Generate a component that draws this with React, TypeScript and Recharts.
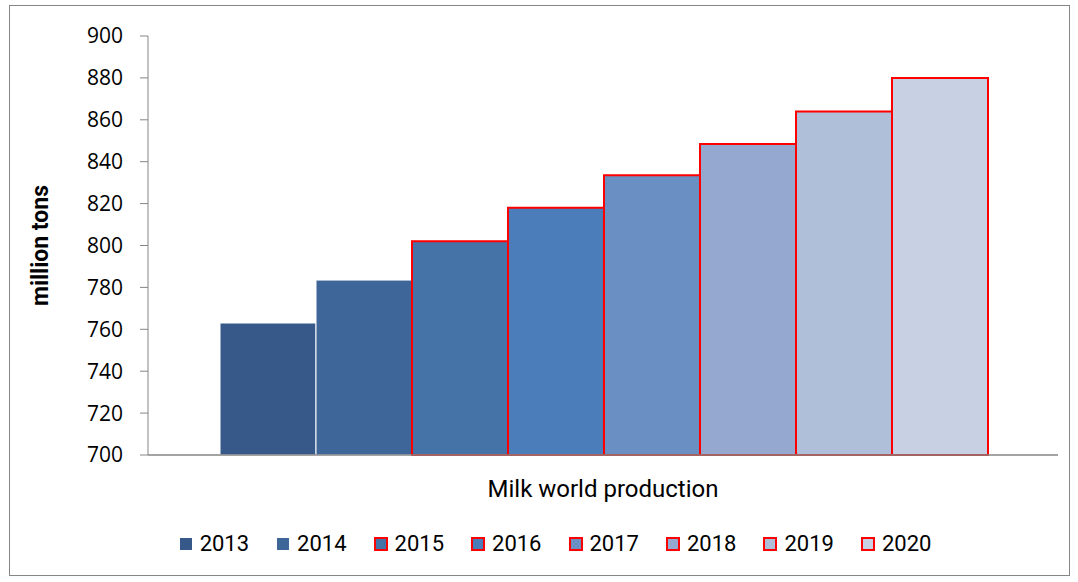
import React from 'react';
import { BarChart, Bar, XAxis, YAxis, Legend } from 'recharts';

const years = ['2013', '2014', '2015', '2016', '2017', '2018', '2019', '2020'];
const production = [763, 783.5, 802, 818, 833.5, 848.5, 864, 880];
const categoryName = 'Milk world production';
const yTicks = [700, 720, 740, 760, 780, 800, 820, 840, 860, 880, 900];

const fills = ['#36598A', '#3E6699', '#4573A7', '#4A7DBA', '#6A8FC3', '#95A9D0', '#AFBFDA', '#C8D0E3'];
const strokes = ['#FFFFFF', '#FFFFFF', '#FF0000', '#FF0000', '#FF0000', '#FF0000', '#FF0000', '#FF0000'];
const strokeWidths = [1, 1, 2, 2, 2, 2, 2, 2];

const row: Record<string, string | number> = { name: categoryName };
years.forEach((y, i) => {
  row['y' + y] = production[i];
});
const data = [row];

const AXIS = '#868686';
const FONT = 'Roboto, "Open Sans", sans-serif';

const YLabel = (props: any) => {
  const vb = props.viewBox || { x: 0, y: 0, width: 0, height: 0 };
  const cx = vb.x + 40;
  const cy = vb.y + vb.height / 2;
  return (
    <text
      x={cx}
      y={cy}
      transform={`rotate(-90, ${cx}, ${cy})`}
      textAnchor="middle"
      dominantBaseline="central"
      fontFamily={FONT}
      fontWeight="bold"
      fontSize={23}
      fill="#000"
    >
      million tons
    </text>
  );
};

const LegendContent = (props: any) => {
  const payload = props.payload || [];
  return (
    <div
      style={{
        display: 'flex',
        justifyContent: 'center',
        alignItems: 'center',
        gap: 27,
        paddingLeft: 32,
        fontFamily: FONT,
        fontSize: 22,
        color: '#000',
      }}
    >
      {payload.map((entry: any, i: number) => {
        const idx = years.indexOf(String(entry.value));
        const red = strokes[idx] === '#FF0000';
        return (
          <div key={i} style={{ display: 'flex', alignItems: 'center' }}>
            <svg width={14} height={14} style={{ marginRight: 7 }}>
              <rect
                x={1}
                y={1}
                width={12}
                height={12}
                fill={fills[idx]}
                stroke={red ? '#FF0000' : 'none'}
                strokeWidth={red ? 2 : 0}
              />
            </svg>
            <span>{entry.value}</span>
          </div>
        );
      })}
    </div>
  );
};

export default function App() {
  return (
    <div style={{ position: 'absolute', left: 0, top: 0, width: 1078, height: 582, background: '#fff' }}>
      <div
        style={{
          position: 'absolute',
          left: 9,
          top: 5,
          width: 1059,
          height: 569,
          border: `1px solid ${AXIS}`,
        }}
      />
      <div style={{ position: 'absolute', left: 0, top: 0 }}>
        <BarChart
          width={1078}
          height={582}
          data={data}
          margin={{ top: 36, right: 20, bottom: 79, left: 0 }}
          barGap={0}
          barCategoryGap={72}
        >
          <XAxis
            xAxisId="a_edge"
            type="number"
            domain={[0, 1]}
            ticks={[0, 1]}
            allowDataOverflow
            tick={false}
            axisLine={{ stroke: AXIS, strokeWidth: 1.5 }}
            tickLine={{ stroke: AXIS }}
            tickSize={8}
            height={8}
          />
          <XAxis
            xAxisId="b_cat"
            dataKey="name"
            axisLine={false}
            tickLine={false}
            tickSize={0}
            tickMargin={17}
            height={40}
            tick={{ fontFamily: FONT, fontSize: 24, fill: '#000' }}
          />
          <YAxis
            domain={[700, 900]}
            ticks={yTicks}
            interval={0}
            width={148}
            axisLine={{ stroke: AXIS }}
            tickLine={{ stroke: AXIS }}
            tickSize={8}
            tickMargin={17}
            tick={{ fontFamily: '"Open Sans", sans-serif', fontSize: 21, fill: '#000' }}
            label={<YLabel />}
          />
          <Legend
            layout="horizontal"
            verticalAlign="middle"
            align="center"
            wrapperStyle={{ top: 531, left: 0, width: 1078 }}
            content={<LegendContent />}
          />
          {years.map((y, i) => (
            <Bar
              key={y}
              xAxisId="b_cat"
              dataKey={'y' + y}
              name={y}
              fill={fills[i]}
              stroke={strokes[i]}
              strokeWidth={strokeWidths[i]}
              isAnimationActive={false}
            />
          ))}
        </BarChart>
      </div>
    </div>
  );
}
